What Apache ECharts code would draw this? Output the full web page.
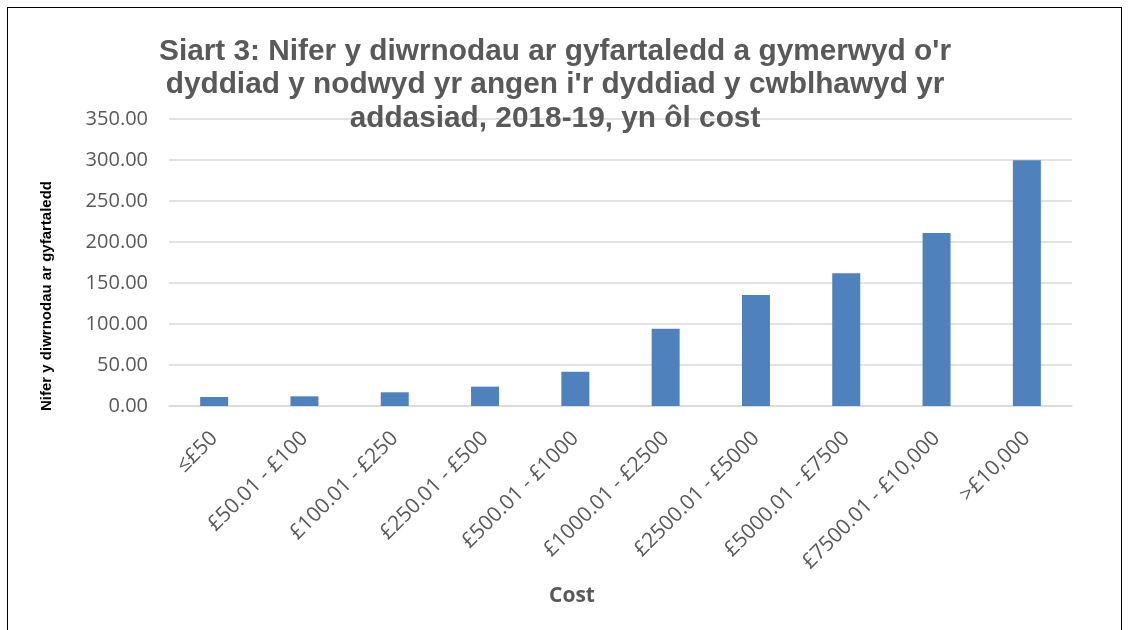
<!DOCTYPE html>
<html>
<head>
<meta charset="utf-8">
<script src="https://cdn.jsdelivr.net/npm/echarts@6/dist/echarts.min.js"></script>
<style>
  html, body { margin: 0; padding: 0; background: #fff; }
  .frame {
    position: absolute; left: 7px; top: 7px;
    width: 1115px; height: 640px;
    border: 1px solid #000;
    box-sizing: border-box;
  }
  #chart { position: absolute; left: 0; top: 0; width: 1130px; height: 630px; }
</style>
</head>
<body>
<div class="frame"></div>
<div id="chart"></div>
<script>
const categories = ["≤£50", "£50.01 - £100", "£100.01 - £250", "£250.01 - £500", "£500.01 - £1000",
  "£1000.01 - £2500", "£2500.01 - £5000", "£5000.01 - £7500", "£7500.01 - £10,000", ">£10,000"];
const avgDays = [11.0, 11.8, 16.7, 23.6, 41.9, 94.3, 135.4, 161.8, 211.0, 299.6];
const titleText = "Siart 3: Nifer y diwrnodau ar gyfartaledd a gymerwyd o'r\ndyddiad y nodwyd yr angen i'r dyddiad y cwblhawyd yr\naddasiad, 2018-19, yn ôl cost";

const titleFont = "'Liberation Sans', Arial, sans-serif";
const font = "'Open Sans', 'Noto Sans', sans-serif";
let mychart = echarts.init(document.getElementById("chart"));
let option = {
  animation: false,
  title: {
    text: titleText,
    left: 550,
    top: 30,
    textAlign: "center",
    textStyle: {
      fontFamily: titleFont, fontSize: 29.8, fontWeight: "bold",
      color: "#595959", lineHeight: 33.5,
    },
  },
  grid: { left: 169, right: 58, top: 119, bottom: 224 },
  xAxis: {
    type: "category",
    data: categories,
    axisLine: { lineStyle: { color: "#d9d9d9", width: 1.5 } },
    axisTick: { show: false },
    axisLabel: {
      interval: 0, rotate: 45, margin: 29,
      fontFamily: font, fontSize: 21, color: "#595959",
    },
  },
  yAxis: {
    type: "value",
    min: 0, max: 350, interval: 50,
    axisLine: { show: false },
    axisTick: { show: false },
    splitLine: { lineStyle: { color: "#d9d9d9", width: 1.5 } },
    axisLabel: {
      margin: 21,
      fontFamily: font, fontSize: 20, color: "#595959",
      formatter: (v) => v.toFixed(2),
    },
  },
  graphic: [
    {
      type: "text", x: 47, y: 296, rotation: Math.PI / 2,
      style: {
        text: "Nifer y diwrnodau ar gyfartaledd",
        font: "bold 15px " + titleFont, fill: "#000",
        align: "center", verticalAlign: "middle",
      },
    },
    {
      type: "text", x: 572, y: 596,
      style: {
        text: "Cost",
        font: "bold 21px " + font, fill: "#595959",
        align: "center", verticalAlign: "middle",
      },
    },
  ],
  series: [
    {
      type: "bar",
      data: avgDays,
      barWidth: "31%",
      itemStyle: { color: "#4f81bd" },
    },
  ],
};
mychart.setOption(option);
</script>
</body>
</html>
